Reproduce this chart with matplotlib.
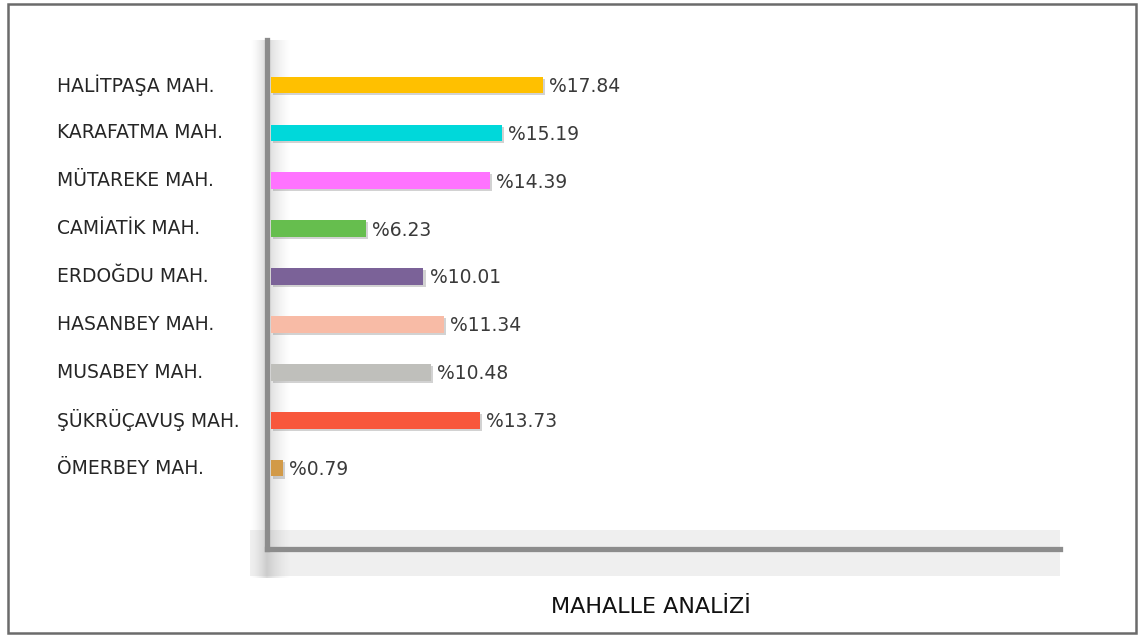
import numpy as np, matplotlib
matplotlib.use("Agg")
import matplotlib.pyplot as plt
import matplotlib.patheffects as pe
from matplotlib.patches import Rectangle

# neighbourhood shares (%), top to bottom
districts = ["HALİTPAŞA MAH.", "KARAFATMA MAH.", "MÜTAREKE MAH.", "CAMİATİK MAH.",
             "ERDOĞDU MAH.", "HASANBEY MAH.", "MUSABEY MAH.", "ŞÜKRÜÇAVUŞ MAH.", "ÖMERBEY MAH."]
shares = [17.84, 15.19, 14.39, 6.23, 10.01, 11.34, 10.48, 13.73, 0.79]
colors = ["#FFC000", "#00D8DA", "#FF73FF", "#66BE4E", "#7B6298",
          "#F8BBA6", "#BFBFBB", "#F8573C", "#D29A48"]
title = "MAHALLE ANALİZİ"

plt.rcParams.update({"font.family": ["DejaVu Sans"]})
W, H = 1145, 636
fig = plt.figure(figsize=(W / 100, H / 100), dpi=100)
fx = lambda px: px / W
fy = lambda py: 1 - py / H

# outer frame
fig.patches.append(Rectangle((fx(8), fy(633)), fx(1128), 629 / H, transform=fig.transFigure,
                             fill=False, ec="#6b6b6b", lw=1.8, zorder=0))
# pale band behind the baseline
fig.patches.append(Rectangle((fx(250), fy(576)), fx(810), 46 / H, transform=fig.transFigure,
                             fc="#efefef", ec="none", zorder=0))

# soft shadow along the vertical axis
sh = fig.add_axes([fx(250), fy(578), fx(42), (578 - 40) / H], zorder=0.5)
grad = np.concatenate([np.linspace(0, 1, 17), np.linspace(1, 0, 25)])
rgba = np.zeros((1, len(grad), 4))
rgba[..., :3] = 0.5
rgba[0, :, 3] = grad ** 1.5 * 0.3
sh.imshow(rgba, aspect="auto", extent=(0, 1, 0, 1))
sh.axis("off")

ax = fig.add_axes([fx(267), fy(549), fx(1060 - 267), (549 - 40) / H], zorder=1)
ax.patch.set_alpha(0)
y = np.arange(len(districts))
bars = ax.barh(y, shares, height=0.35, color=colors, zorder=3)
for b in bars:
    b.set_path_effects([pe.SimplePatchShadow(offset=(1.5, -1.5), shadow_rgbFace="#808080", alpha=0.35),
                        pe.Normal()])
for yi, v in zip(y, shares):
    ax.text(v + 0.4, yi + 0.03, f"%{v:.2f}", va="center", ha="left", fontsize=13.5, color="#3a3a3a")

ax.set_xlim(-0.26, 51.8)
ax.set_ylim(len(districts) - 1 + 1.69, -0.94)
ax.set_xticks([]); ax.set_yticks([])
for s in ("top", "right"):
    ax.spines[s].set_visible(False)
for s in ("left", "bottom"):
    ax.spines[s].set_color("#8c8c8c")
    ax.spines[s].set_linewidth(3.8)

for yi, name in zip(y, districts):
    fig.text(fx(57), fy(85 + yi * 47.9), name, ha="left", va="center", fontsize=13.5, color="#262626")

fig.text(fx(651), fy(607), title, ha="center", va="center", fontsize=16, color="#111111")

fig.savefig("out.png", facecolor="white")
